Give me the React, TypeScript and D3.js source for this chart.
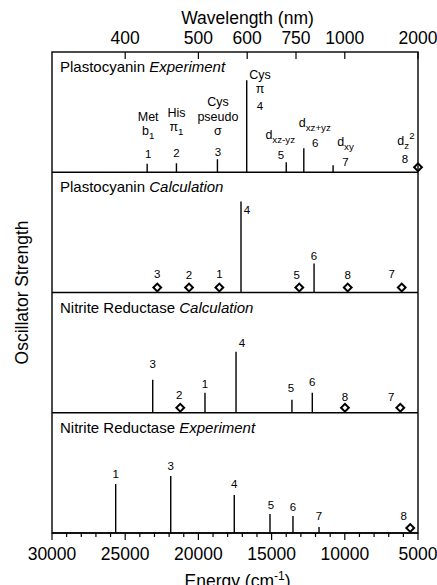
import React from "react";
import * as d3 from "d3";

// ---------- data ----------
const energyTicks = [30000, 25000, 20000, 15000, 10000, 5000];
const wavelengthTicks = [400, 500, 600, 750, 1000, 2000];

const panelProteins = ["Plastocyanin", "Plastocyanin", "Nitrite Reductase", "Nitrite Reductase"];
const panelKinds = ["Experiment", "Calculation", "Calculation", "Experiment"];

// Plastocyanin Experiment (strength 0 => too weak, drawn as diamond)
const pcExpLabels = ["1", "2", "3", "4", "5", "6", "7", "8"];
const pcExpEnergy = [23500, 21500, 18700, 16700, 14000, 12800, 10800, 5000];
const pcExpStrength = [0.085, 0.09, 0.13, 0.92, 0.1, 0.24, 0.07, 0];
const pcExpAssign = [
  ["Met", "b_1"],
  ["His", "π_1"],
  ["Cys", "pseudo", "σ"],
  ["Cys", "π"],
  ["d_xz-yz"],
  ["d_xz+yz"],
  ["d_xy"],
  ["d_z^2"],
];

// Plastocyanin Calculation
const pcCalcLabels = ["1", "2", "3", "4", "5", "6", "7", "8"];
const pcCalcEnergy = [18570, 20640, 22810, 17090, 13110, 12100, 6110, 9800];
const pcCalcStrength = [0, 0, 0, 0.91, 0, 0.29, 0, 0];

// Nitrite Reductase Calculation
const nrCalcLabels = ["1", "2", "3", "4", "5", "6", "7", "8"];
const nrCalcEnergy = [19550, 21240, 23120, 17430, 13610, 12220, 6210, 9990];
const nrCalcStrength = [0.2, 0, 0.33, 0.61, 0.13, 0.2, 0, 0];

// Nitrite Reductase Experiment
const nrExpLabels = ["1", "3", "4", "5", "6", "7", "8"];
const nrExpEnergy = [25650, 21890, 17550, 15110, 13540, 11760, 5530];
const nrExpStrength = [0.49, 0.57, 0.38, 0.19, 0.17, 0.06, 0];

// ---------- layout (label nudges relative to mark top / diamond centre) ----------
const labelNudges: [number, number][][] = [
  [[1, -5.5], [0, -6], [0.5, -3], [13.3, 30], [-5.3, -3], [11.3, -1], [12.4, 1], [-13, -4]],
  [[0, -10], [0, -9], [0, -10], [6, 12], [-2.6, -9], [0, -4], [-10, -10], [0, -9]],
  [[0, -5], [-1, -9], [0, -12], [6, -5], [-1, -8], [0, -7], [-9, -7], [0, -7]],
  [[0, -6], [0, -6], [0, -7], [1, -5], [0, -5], [0, -7], [-6.6, -8]],
];
const assignGap = [-23, -26, -21, -17, -20, -20, -20, -18];
const assignDx = [0, 0, 0, 0, -0.7, -0.3, 0, 1];

const W = 437;
const H = 585;
const FONT = "'Liberation Sans', Arial, Helvetica, sans-serif";
const frame = { left: 52, right: 418, top: 52, bottom: 533 };

type Tr = { label: string; energy: number; strength: number };
const toTr = (labels: string[], e: number[], s: number[]): Tr[] =>
  labels.map((l, i) => ({ label: l, energy: e[i], strength: s[i] }));

const panels: Tr[][] = [
  toTr(pcExpLabels, pcExpEnergy, pcExpStrength),
  toTr(pcCalcLabels, pcCalcEnergy, pcCalcStrength),
  toTr(nrCalcLabels, nrCalcEnergy, nrCalcStrength),
  toTr(nrExpLabels, nrExpEnergy, nrExpStrength),
];

function Rich({ spec, x, y, size, anchor = "middle" }: any) {
  const m = spec.match(/^([^_^]+)(?:_([^^]+))?(?:\^(.+))?$/);
  const base = m[1];
  const sub = m[2];
  const sup = m[3];
  const small = size * 0.78;
  const kids: any[] = [<tspan key="b">{base}</tspan>];
  let shift = 0;
  if (sub) {
    kids.push(
      <tspan key="s" fontSize={small} dy={3.5}>
        {sub}
      </tspan>
    );
    shift = 3.5;
  }
  if (sup) {
    kids.push(
      <tspan key="p" fontSize={small} dy={-shift - 6}>
        {sup}
      </tspan>
    );
  }
  return (
    <text x={x} y={y} fontSize={size} textAnchor={anchor} fontFamily={FONT}>
      {kids}
    </text>
  );
}

export default function App() {
  const x = d3.scaleLinear().domain([30000, 5000]).range([frame.left, frame.right]);
  const band = d3
    .scaleBand<number>()
    .domain(d3.range(4))
    .range([frame.top, frame.bottom])
    .paddingInner(0)
    .paddingOuter(0);
  const diamond = d3.symbol().type(d3.symbolSquare).size(30)();
  const minorTicks = d3.range(5000, 30001, 1000);

  return (
    <svg
      width={W}
      height={H}
      style={{ position: "absolute", left: 0, top: 0, background: "#fff" }}
      fontFamily={FONT}
    >
      <rect x={0} y={0} width={W} height={H} fill="#fff" />
      {/* top axis */}
      <text x={247.5} y={24} fontSize={17.5} textAnchor="middle">
        Wavelength (nm)
      </text>
      {wavelengthTicks.map((wl) => {
        const xx = x(1e7 / wl);
        return (
          <g key={wl}>
            <line x1={xx} x2={xx} y1={frame.top} y2={frame.top + 7} stroke="#000" strokeWidth={1.2} />
            <text x={xx} y={44} fontSize={17.5} textAnchor="middle">
              {wl}
            </text>
          </g>
        );
      })}

      {/* panels */}
      {panels.map((data, pi) => {
        const top = band(pi)!;
        const bottom = top + band.bandwidth();
        const y = d3.scaleLinear().domain([0, 1]).range([bottom, bottom - 100]);
        const nud = labelNudges[pi];
        return (
          <g key={pi}>
            <text x={60} y={top + 20} fontSize={15}>
              {panelProteins[pi] + " "}
              <tspan fontStyle="italic">{panelKinds[pi]}</tspan>
            </text>
            <line x1={frame.left} x2={frame.right} y1={bottom} y2={bottom} stroke="#000" strokeWidth={1.6} />
            {data.map((d, i) => {
              const xx = x(d.energy);
              const isDia = d.strength === 0;
              const anchorY = isDia ? bottom - 5 : y(d.strength);
              const lx = xx + nud[i][0];
              const ly = anchorY + nud[i][1];
              const assign = pi === 0 ? pcExpAssign[i] : null;
              return (
                <g key={i}>
                  {isDia ? (
                    <path
                      d={diamond}
                      transform={`translate(${xx},${bottom - 5}) rotate(45)`}
                      fill="#fff"
                      stroke="#000"
                      strokeWidth={2}
                    />
                  ) : (
                    <line x1={xx} x2={xx} y1={bottom} y2={y(d.strength)} stroke="#000" strokeWidth={1.4} />
                  )}
                  <text x={lx} y={ly} fontSize={11.5} textAnchor="middle">
                    {d.label}
                  </text>
                  {assign &&
                    assign
                      .slice()
                      .reverse()
                      .map((s, k) => (
                        <Rich
                          key={k}
                          spec={s}
                          x={lx + assignDx[i]}
                          y={ly + assignGap[i] - k * 14.5}
                          size={12.5}
                        />
                      ))}
                </g>
              );
            })}
          </g>
        );
      })}

      {/* frame */}
      <rect
        x={frame.left}
        y={frame.top}
        width={frame.right - frame.left}
        height={frame.bottom - frame.top}
        fill="none"
        stroke="#000"
        strokeWidth={1.4}
      />

      {/* bottom axis */}
      {minorTicks.map((t) => (
        <line
          key={t}
          x1={x(t)}
          x2={x(t)}
          y1={frame.bottom}
          y2={frame.bottom + (t % 5000 === 0 ? 7 : 4)}
          stroke="#000"
          strokeWidth={1.2}
        />
      ))}
      {energyTicks.map((t) => (
        <text key={t} x={x(t)} y={560} fontSize={17.5} textAnchor="middle">
          {t}
        </text>
      ))}
      <text x={237.5} y={587} fontSize={17.5} textAnchor="middle">
        Energy (cm
        <tspan fontSize={12} dy={-7}>
          -1
        </tspan>
        <tspan dy={7}>)</tspan>
      </text>

      {/* y label */}
      <text
        transform={`translate(28,${(frame.top + frame.bottom) / 2}) rotate(-90)`}
        fontSize={17.5}
        textAnchor="middle"
      >
        Oscillator Strength
      </text>
    </svg>
  );
}
